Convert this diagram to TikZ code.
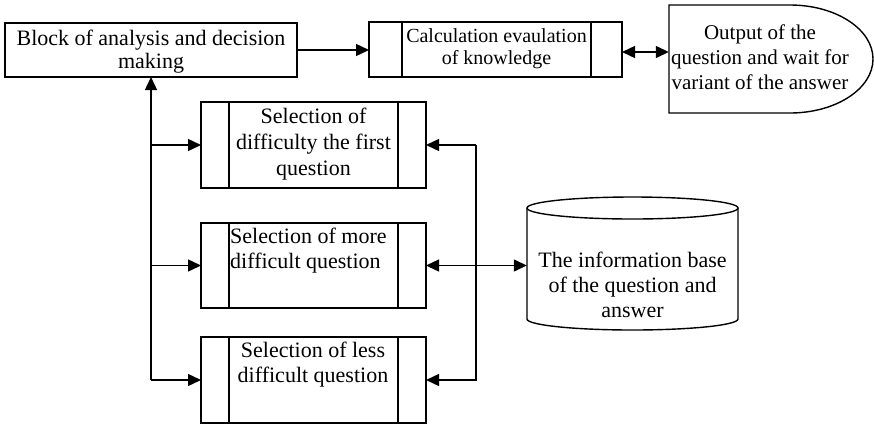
\documentclass[tikz,border=0pt]{standalone}
\usepackage{fontspec}
\setmainfont{Liberation Serif}
\usetikzlibrary{arrows.meta}
\tikzset{
  box/.style={draw, line width=1.4pt, minimum width=#1, inner sep=0pt, outer sep=0pt},
  txt/.style={inner sep=0pt, align=center, font=\fontsize{22}{25}\selectfont},
  conn/.style={line width=1.4pt},
  tip/.style={-{Triangle[length=13pt,width=12pt]}},
  btip/.style={{Triangle[length=13pt,width=12pt]}-{Triangle[length=13pt,width=12pt]}},
}
\begin{document}
\begin{tikzpicture}[x=1pt,y=-1pt]
\useasboundingbox (0,0) rectangle (874,426);
% boxes
\node[box=292pt, minimum height=54pt] (block) at (151,50) {};
\node[box=253pt, minimum height=55pt] (calc) at (495.5,49.5) {};
\draw[conn] (402,22) -- (402,77) (591,22) -- (591,77);
\node[box=225pt, minimum height=86pt] (first) at (313.5,145) {};
\node[box=225pt, minimum height=85pt] (more) at (313.5,265.5) {};
\node[box=225pt, minimum height=86pt] (less) at (313.5,380) {};
\foreach \n in {first,more,less}{
  \draw[conn] ([xshift=28pt]\n.north west) -- ([xshift=28pt]\n.south west);
  \draw[conn] ([xshift=-28pt]\n.north east) -- ([xshift=-28pt]\n.south east);
}
% output shape
\node[minimum width=204pt, minimum height=108pt, inner sep=0pt] (out) at (771,59) {};
\draw[conn] (669,5) -- (790,5) arc[start angle=90, end angle=-90, x radius=83pt, y radius=54pt] -- (669,113) -- cycle;
% cylinder
\node[minimum width=211pt, minimum height=133pt, inner sep=0pt] (db) at (632.5,263.5) {};
\draw[conn] (527,208) -- (527,319) arc[start angle=180, end angle=360, x radius=105.5pt, y radius=11pt] -- (738,208);
\draw[conn] (632.5,208) ellipse[x radius=105.5pt, y radius=11pt];
% texts
\node[txt, anchor=north, font=\fontsize{22}{23}\selectfont] (tblock) at (151,30) {Block of analysis and decision\\making};
\node[txt, anchor=north, font=\fontsize{20}{22}\selectfont] (tcalc) at (496.5,28) {Calculation evaulation\\of knowledge};
\node[txt, anchor=north, font=\fontsize{21}{25}\selectfont] (tout) at (760,25) {Output of the\\question and wait for\\variant of the answer};
\node[txt, anchor=north, font=\fontsize{22}{26}\selectfont] (tfirst) at (313.5,108) {Selection of\\difficulty the first\\question};
\node[txt, anchor=north west, align=left] (tmore) at (230,228) {Selection of more\\difficult question};
\node[txt, anchor=north] (tless) at (313,342) {Selection of less\\difficult question};
\node[txt, anchor=north] (tdb) at (632.5,252) {The information base\\of the question and\\answer};
% connectors
\coordinate (rx) at (476,0);
\draw[conn, tip] (block.east) -- (block.east -| calc.west);
\draw[conn, btip] (calc.east |- 0,52) -- (out.west |- 0,52);
\draw[conn, tip] (block.south |- less.west) -- (block.south);
\draw[conn, tip] (block.south |- first.west) -- (first.west);
\draw[conn, tip] (block.south |- more.west) -- (more.west);
\draw[conn, tip] (block.south |- less.west) -- (less.west);
\draw[conn, tip] (rx |- first.east) -- (first.east);
\draw[conn, tip] (rx |- first.east) -- (rx |- less.east) -- (less.east);
\draw[conn, btip] (more.east) -- (more.east -| db.west);
\end{tikzpicture}
\end{document}
